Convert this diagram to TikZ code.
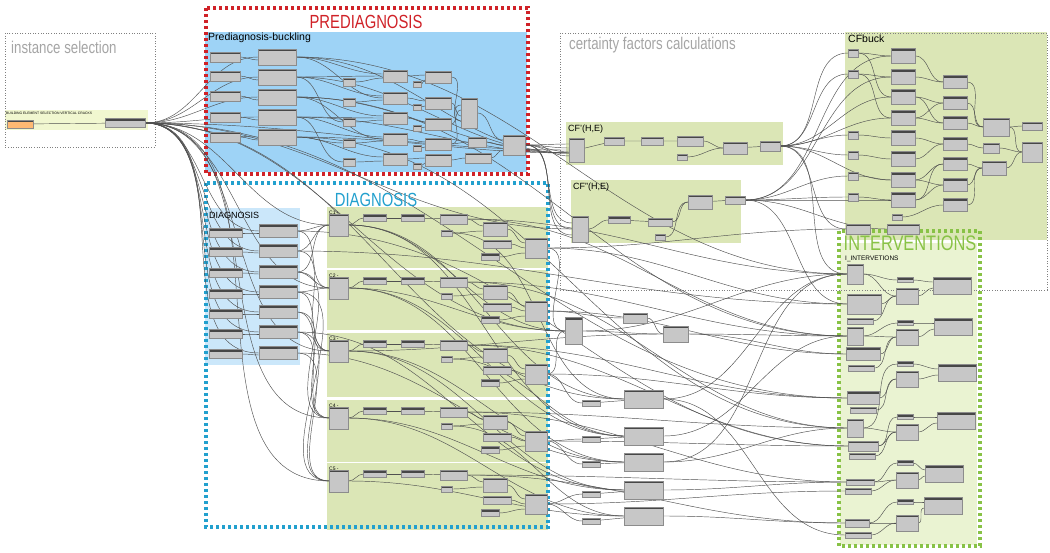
\documentclass[tikz,border=0pt]{standalone}
\usepackage{fontspec}
\setmainfont{Liberation Sans}
\newfontfamily\condfont[FakeStretch=0.78]{Liberation Sans}
\usepackage{tikz}
\usetikzlibrary{positioning,calc,backgrounds}
\pgfdeclarelayer{groups}
\pgfsetlayers{groups,background,main}
\definecolor{gblue}{RGB}{158,211,246}
\definecolor{gblue2}{RGB}{203,231,250}
\definecolor{ggreen}{RGB}{219,230,182}
\definecolor{ggreen2}{RGB}{234,243,210}
\definecolor{gyell}{RGB}{241,247,208}
\definecolor{lred}{RGB}{208,34,40}
\definecolor{lblue}{RGB}{34,160,206}
\definecolor{lgreen}{RGB}{136,194,70}
\definecolor{lgray}{RGB}{165,165,165}
\definecolor{wirec}{RGB}{80,80,80}

\begin{document}
\begin{tikzpicture}[
  x=1pt, y=-1pt,
  dnode/.style 2 args={draw=black!45, fill=black!22, line width=0.3pt, inner sep=0pt, outer sep=0pt,
    minimum width=#1, minimum height=#2,
    path picture={\fill[black!72] (path picture bounding box.north west)
      rectangle ([yshift=-2.4pt]path picture bounding box.north east);}},
  dwire/.style={draw=wirec, line width=0.45pt},
  glabel/.style={font=\condfont\fontsize{17}{17}\selectfont, text=lgray, anchor=west, inner sep=0pt},
  gbig/.style={font=\condfont\fontsize{19}{19}\selectfont, inner sep=0pt},
  gtitle/.style={font=\fontsize{10}{10}\selectfont, anchor=west, inner sep=0pt},
  thinframe/.style={draw=black!50, line width=0.8pt, dash pattern=on 1pt off 1.6pt},
  fatframe/.style={line width=3.2pt, dash pattern=on 3pt off 3pt},
]
\useasboundingbox (0,0) rectangle (1050,552);

% group backgrounds and frames
\begin{pgfonlayer}{groups}
  \fill[white] (0,0) rectangle (1050,552);
  \fill[gyell] (5,110) rectangle (148,130);
  \fill[gblue] (205,32) rectangle (527,172);
  \fill[ggreen] (566,122) rectangle (783,165);
  \fill[ggreen] (571,180) rectangle (741,243);
  \fill[ggreen] (845,32) rectangle (1047,240);
  \fill[gblue2] (205,208) rectangle (300,365);
  \foreach \t/\b in {207/268,270/330,333/397,400/462,463/530}
    \fill[ggreen] (327,\t) rectangle (548,\b);
  \fill[ggreen2] (840,243) rectangle (977,545);
  \draw[thinframe] (5,33) rectangle (155,147);
  \draw[thinframe] (560,33) rectangle (1047,290);
  \draw[fatframe, draw=lred] (206,8) rectangle (528,174);
  \draw[fatframe, draw=lblue] (206,183) rectangle (548,527);
  \draw[fatframe, draw=lgreen] (839,231) rectangle (980,546);
\end{pgfonlayer}

% 1. instance selection
\node[glabel] (lbinst) at (11,47) {instance selection};
\node[anchor=west, inner sep=0pt, font=\fontsize{3.4}{3.4}\selectfont] (lbbldg) at (6,113)
  {BUILDING ELEMENT SELECTION VERTICAL CRACKS};
\node[dnode={26}{8}, fill=orange!55] (sel) at (20,124) {};
\node[dnode={40}{9}] (elem) at (125,123) {};

% 2. prediagnosis
\node[gbig, text=lred] (lbpre) at (366,22) {PREDIAGNOSIS};
\node[gtitle, font=\fontsize{10.5}{10.5}\selectfont] (tpre) at (208,38) {Prediagnosis-buckling};
\foreach \y [count=\i] in {57,76,96,117,137} \node[dnode={30}{10}] (pa\i) at (225,\y) {};
\foreach \y [count=\i] in {57,77,97,117,137} \node[dnode={38}{16}] (pb\i) at (277,\y) {};
\foreach \y [count=\i] in {82,102,122,143,162} \node[dnode={12}{8}] (pc\i) at (349,\y) {};
\foreach \y [count=\i] in {76,98,118,139,159} \node[dnode={24}{12}] (pd\i) at (395,\y) {};
\foreach \y [count=\i] in {84,107,128,148,166} \node[dnode={8}{6}] (pe\i) at (417,\y) {};
\foreach \y [count=\i] in {77,103,124,144,160} \node[dnode={26}{12}] (pf\i) at (438,\y) {};
\node[dnode={16}{30}] (pg) at (469,113) {};
\node[dnode={18}{10}] (ph) at (477,142) {};
\node[dnode={26}{10}] (pi) at (478,158) {};
\node[dnode={22}{20}] (pj) at (514,145) {};

% 3. certainty factors
\node[glabel] (lbcert) at (569,45) {certainty factors calculations};
\node[gtitle, font=\fontsize{9}{9}\selectfont] (tcf1) at (568,129) {CF'(H,E)};
\node[dnode={15}{24}] (cfa) at (577,150) {};
\node[dnode={20}{8}] (cfb) at (614,141) {};
\node[dnode={22}{8}] (cfc) at (652,141) {};
\node[dnode={26}{10}] (cfd) at (690,141) {};
\node[dnode={10}{6}] (cfe) at (682,157) {};
\node[dnode={24}{12}] (cff) at (735,148) {};
\node[dnode={20}{10}] (cfg) at (770,146) {};
\node[gtitle, font=\fontsize{9}{9}\selectfont] (tcf2) at (573,187) {CF''(H,E)};
\node[dnode={16}{26}] (cga) at (580,229) {};
\node[dnode={22}{7}] (cgb) at (619,220) {};
\node[dnode={24}{8}] (cgc) at (660,222) {};
\node[dnode={24}{14}] (cgd) at (700,202) {};
\node[dnode={20}{8}] (cge) at (735,200) {};
\node[dnode={10}{6}] (cgf) at (660,237) {};

% CFbuck
\node[gtitle, font=\fontsize{10.5}{10.5}\selectfont] (tcfb) at (848,39) {CFbuck};
\foreach \y [count=\i] in {53,74,135,155,176,197} \node[dnode={10}{8}] (bs\i) at (853,\y) {};
\node[dnode={10}{6}] (bs7) at (897,217) {};
\foreach \y [count=\i] in {56,77,97,118,138,159,180,200} \node[dnode={24}{15}] (bb\i) at (903,\y) {};
\foreach \y [count=\i] in {82,103,123,144,164,185,205} \node[dnode={24}{13}] (bc\i) at (955,\y) {};
\node[dnode={26}{18}] (bd1) at (996,127) {};
\node[dnode={16}{10}] (bd2) at (991,148) {};
\node[dnode={24}{14}] (bd3) at (994,168) {};
\node[dnode={20}{8}] (be1) at (1032,126) {};
\node[dnode={20}{20}] (be2) at (1032,152) {};
\node[dnode={24}{10}] (bf1) at (858,229) {};
\node[dnode={32}{10}] (bf2) at (903,229) {};

% 4. diagnosis
\node[gbig, text=lblue] (lbdia) at (376,200) {DIAGNOSIS};
\node[gtitle, font=\fontsize{9}{9}\selectfont] (tdia) at (209,215) {DIAGNOSIS};
\foreach \y [count=\i] in {233,252,273,294,314,334,354} \node[dnode={33}{9}] (da\i) at (226,\y) {};
\foreach \y [count=\i] in {231,251,272,292,312,332,353} \node[dnode={38}{13}] (db\i) at (278,\y) {};
\foreach \t [count=\i] in {207,270,333,400,463} {
  \node[anchor=west, inner sep=0pt, font=\fontsize{5}{5}\selectfont] (tc\i) at (329,\t+6) {C\i\ -};
  \node[dnode={19}{22}] (ct\i) at (339,\t+18) {};
  \node[dnode={23}{7}] (cb\i) at (375,\t+11) {};
  \node[dnode={23}{7}] (cc\i) at (413,\t+11) {};
  \node[dnode={27}{10}] (cd\i) at (454,\t+12) {};
  \node[dnode={11}{6}] (ce\i) at (447,\t+26) {};
  \node[dnode={24}{14}] (cf\i) at (495,\t+22) {};
  \node[dnode={28}{8}] (cg\i) at (497,\t+37) {};
  \node[dnode={18}{7}] (ch\i) at (490,\t+50) {};
  \node[dnode={22}{20}] (ci\i) at (536,\t+41) {};
}

% between the groups
\node[dnode={17}{27}] (m1) at (574,331) {};
\node[dnode={24}{10}] (m2) at (635,318) {};
\node[dnode={25}{16}] (m3) at (676,334) {};
\foreach \y [count=\i] in {403,439,464,494,521} \node[dnode={18}{6}] (ms\i) at (591,\y) {};
\foreach \y [count=\i] in {399,436,462,490,516} \node[dnode={39}{18}] (mb\i) at (644,\y) {};

% 5. interventions
\node[gbig, text=lgreen, font=\condfont\fontsize{21}{21}\selectfont] (lbint) at (910,243) {INTERVENTIONS};
\node[gtitle, font=\fontsize{6.5}{6.5}\selectfont] (tint) at (845,259) {I\_INTERVETIONS};
\foreach \x/\y/\w/\h [count=\i] in {855/274/16/20, 864/304/34/20, 860/321/26/6, 855/336/16/18,
    863/354/34/13, 861/368/26/6, 863/398/32/13, 863/410/26/6, 855/428/16/18, 863/446/30/10,
    862/456/26/6, 860/482/28/6, 858/491/26/6, 857/523/24/8, 858/535/26/6}
  \node[dnode={\w}{\h}] (i\i) at (\x,\y) {};
\foreach \y [count=\i] in {280,323,364,417,463,502} \node[dnode={16}{5}] (js\i) at (905,\y) {};
\foreach \y [count=\i] in {296,337,379,432,480,523} \node[dnode={22}{16}] (jb\i) at (907,\y) {};
\foreach \x/\y [count=\i] in {952/286,953/327,957/373,956/421,944/474,943/506}
  \node[dnode={38}{17}] (k\i) at (\x,\y) {};

% wires
\begin{scope}[on background layer]
  \draw[dwire] (sel) -- (elem);
  % fan out of the selection
  \foreach \d in {pb1,pb2,pb3,pb4,pb5,db1,db2,db3,db4,db5,db6,db7,ct1,ct2,ct3,ct4,ct5,cfa,cga,m1,mb1,i7}
    \draw[dwire] (elem.east) to[out=0,in=180] (\d.west);
  % prediagnosis
  \foreach \i in {1,...,5} {
    \draw[dwire] (pa\i.east) to[out=0,in=180] ([yshift=-3pt]pb\i.west);
    \draw[dwire] (pb\i.east) to[out=0,in=180] ([yshift=2pt]pd\i.west);
    \draw[dwire] (pc\i.east) to[out=0,in=180] ([yshift=-2pt]pd\i.west);
    \draw[dwire] (pd\i.east) to[out=0,in=180] ([yshift=2pt]pf\i.west);
    \draw[dwire] (pe\i.east) to[out=0,in=180] ([yshift=-3pt]pf\i.west);
    \draw[dwire] (pb\i.east) to[out=0,in=180] ([yshift=-3pt]cfa.west);
  }
  \foreach \s/\d in {pb1/pd2,pb2/pd1,pb3/pd4,pb4/pd3,pb2/pc3,pb4/pc5,pb5/pc4}
    \draw[dwire] (\s.east) to[out=0,in=180] (\d.west);
  \foreach \i/\o in {1/-8,2/-3,3/3,4/8} \draw[dwire] (pf\i.east) to[out=0,in=180] ([yshift=\o pt]pg.west);
  \draw[dwire] (pf5.east) to[out=0,in=180] (pi.west);
  \draw[dwire] (pf4.east) to[out=0,in=180] (ph.west);
  \foreach \s/\o in {pg/5,ph/0,pi/-5} \draw[dwire] (\s.east) to[out=0,in=180] ([yshift=\o pt]pj.west);
  \foreach \o in {-6,-2,2,6} \draw[dwire] (pj.east) to[out=0,in=180] ([yshift=\o pt]cfa.west);
  \foreach \o in {-6,0,6} \draw[dwire] (pj.east) to[out=0,in=180] ([yshift=\o pt]cga.west);
  % certainty factors
  \draw[dwire] (cfa) -- (cfb) -- (cfc) -- (cfd);
  \draw[dwire] (cfd.east) to[out=0,in=180] (cff.west);
  \draw[dwire] (cfe.east) to[out=0,in=180] (cff.west);
  \draw[dwire] (cff) -- (cfg);
  \draw[dwire] (cga.east) to[out=0,in=180] (cgb.west);
  \draw[dwire] (cgb) -- (cgc);
  \draw[dwire] (cgc.east) to[out=0,in=180] (cgd.west);
  \draw[dwire] (cgf.east) to[out=0,in=180] (cgd.west);
  \draw[dwire] (cgd) -- (cge);
  \foreach \d in {bs1,bs2,bb3,bb4,bs3,bs4,bb7,bf1,i1}
    \draw[dwire] (cfg.east) to[out=0,in=180] (\d.west);
  \foreach \d in {bb1,bb2,bs5,bs6,bb8,bf2,i2}
    \draw[dwire] (cge.east) to[out=0,in=180] (\d.west);
  % CFbuck
  \foreach \s/\d in {bs1/bb1,bs2/bb2,bs1/bb3,bs2/bb4,bb1/bc1,bb2/bc1,bb3/bc2,bb4/bc2,bb3/bc3,bb4/bc3,
      bs3/bb5,bs4/bb6,bs5/bb7,bs6/bb8,bb5/bc4,bb6/bc4,bb7/bc5,bb8/bc5,bb7/bc6,bb8/bc6,bs7/bc7,
      bc1/bd1,bc2/bd1,bc3/bd1,bc4/bd2,bc5/bd3,bc6/bd3,bc7/bd3,bd1/be1,bd1/be2,bd2/be2,bd3/be2}
    \draw[dwire] (\s.east) to[out=0,in=180] (\d.west);
  % diagnosis
  \foreach \i in {1,...,7} \draw[dwire] (da\i.east) to[out=0,in=180] ([yshift=-2pt]db\i.west);
  \foreach \s/\d in {db1/ct1,db2/ct1,db3/ct1,db1/ct2,db3/ct2,db4/ct2,db2/ct3,db4/ct3,db5/ct3,
      db5/ct4,db6/ct4,db3/ct4,db6/ct5,db7/ct5,db4/ct5}
    \draw[dwire] (\s.east) to[out=0,in=180] (\d.west);
  \foreach \i in {1,...,5} {
    \draw[dwire] (ct\i.east) to[out=0,in=180] (cb\i.west);
    \draw[dwire] (cb\i) -- (cc\i);
    \draw[dwire] (cc\i) -- (cd\i);
    \draw[dwire] (cd\i.east) to[out=0,in=180] ([yshift=3pt]cf\i.west);
    \draw[dwire] (ce\i.east) to[out=0,in=180] ([yshift=-2pt]cf\i.west);
    \draw[dwire] (cf\i.east) to[out=0,in=180] ([yshift=5pt]ci\i.west);
    \draw[dwire] (cg\i.east) to[out=0,in=180] (ci\i.west);
    \draw[dwire] (ch\i.east) to[out=0,in=180] ([yshift=-5pt]ci\i.west);
  }
  % long connections
  \foreach \s/\d in {ct1/m1,ct1/mb1,ct1/mb2,ct2/m1,ct2/mb2,ct2/mb3,ct3/mb3,ct3/m3,ct3/mb4,ct4/mb4,ct4/mb5,
      ct5/mb5,cd1/i1,cd1/i4,cd2/i4,cd2/i9,cd3/i7,cd3/i10,cd4/i9,cd4/i12,cd5/i12,cd5/i14,
      ci1/m1,ci1/i2,ci1/bf1,ci2/m2,ci2/i5,ci3/m1,ci3/i7,ci3/ms1,ci4/ms2,ci4/i10,ci4/ms3,ci5/ms4,ci5/ms5,ci5/i13,
      m1/m3,m2/m3,m1/i1,m3/i4,m3/i5,mb1/i1,mb2/i4,mb3/i1,mb3/i9,mb4/i12,mb5/i14,mb1/i15,
      pb1/i1,pb3/i4,pb5/i9,db1/i10,db2/i2,db6/mb4,db7/mb3,ce1/mb1,ce3/mb2,ce4/mb5}
    \draw[dwire] (\s.east) to[out=0,in=180] (\d.west);
  \foreach \i in {1,...,5} \draw[dwire] (ms\i) -- (mb\i);
  % interventions
  \foreach \s/\d in {i1/jb1,i2/jb1,i3/jb1,i4/jb2,i5/jb2,i6/jb2,i7/jb3,i8/jb3,i9/jb4,i10/jb4,i11/jb4,
      i12/jb5,i13/jb5,i14/jb6,i15/jb6,i1/js1,i4/js2,i9/js3,i10/js4,i12/js5,i14/js6}
    \draw[dwire] (\s.east) to[out=0,in=180] (\d.west);
  \foreach \i in {1,...,6} {
    \draw[dwire] (js\i.east) to[out=0,in=180] ([yshift=4pt]k\i.west);
    \draw[dwire] (jb\i.east) to[out=0,in=180] ([yshift=-2pt]k\i.west);
  }
\end{scope}
\end{tikzpicture}
\end{document}
